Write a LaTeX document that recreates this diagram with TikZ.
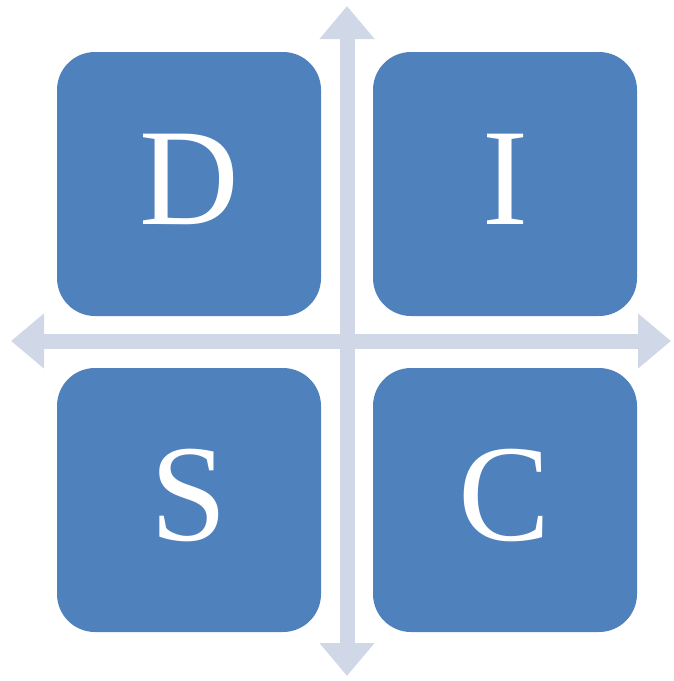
\documentclass[tikz,border=0pt]{standalone}
\usepackage{fontspec}
\setmainfont{Liberation Serif}
\usepackage{tikz}
\usetikzlibrary{arrows.meta, positioning}
\definecolor{discblue}{HTML}{4F81BD}
\definecolor{axisgrey}{HTML}{D0D8E8}
\tikzset{
  quad/.style={rectangle, rounded corners=38pt, fill=discblue,
    minimum width=264pt, minimum height=264pt, inner sep=0pt,
    text=white, text depth=10pt, font=\fontsize{138}{140}\selectfont},
  axis/.style={draw=axisgrey, line width=15pt,
    {Triangle[width=53pt,length=33pt]}-{Triangle[width=53pt,length=33pt]}},
}

\begin{document}
\begin{tikzpicture}[x=1pt,y=-1pt]
      \useasboundingbox (0,0) rectangle (673,681);

      \coordinate (N) at (347,6);
      \coordinate (S) at (347,676);
      \coordinate (W) at (11,341);
      \coordinate (E) at (671,341);

      \draw[axis] (N) -- (S);
      \draw[axis] (W) -- (E);

      \node[quad] (D) at (189,184) {D};
      \node[quad] (I) at (505,184) {I};
      \node[quad] (Sq) at (189,500) {S};
      \node[quad] (C) at (505,500) {C};
    \end{tikzpicture}
\end{document}
